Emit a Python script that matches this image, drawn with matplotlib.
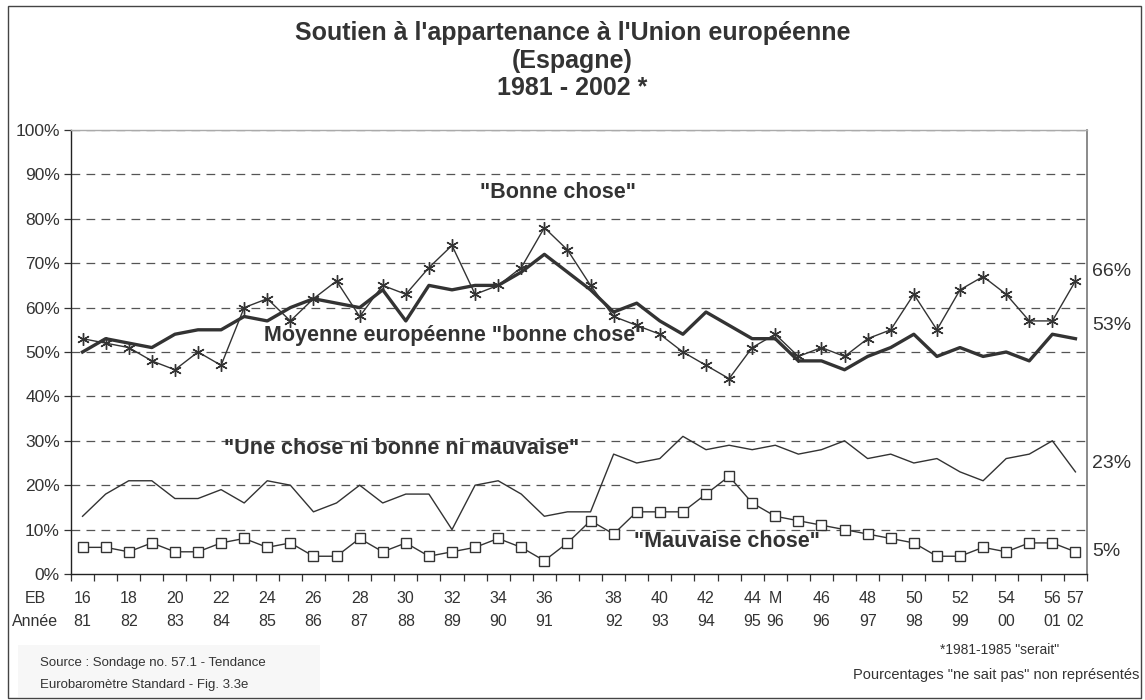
import numpy as np
import matplotlib
matplotlib.use('Agg')
import matplotlib.pyplot as plt
import matplotlib.patches as patches

plt.rcParams['font.family'] = ['Liberation Sans', 'DejaVu Sans']

# survey index 0..43 (EB16 .. EB57)
bonne = [53, 52, 51, 48, 46, 50, 47, 60, 62, 57, 62, 66, 58, 65, 63,
         69, 74, 63, 65, 69, 78, 73, 65, 58, 56, 54, 50, 47, 44, 51,
         54, 49, 51, 49, 53, 55, 63, 55, 64, 67, 63, 57, 57, 66]
moyenne = [50, 53, 52, 51, 54, 55, 55, 58, 57, 60, 62, 61, 60, 64, 57,
           65, 64, 65, 65, 68, 72, 68, 64, 59, 61, 57, 54, 59, 56, 53,
           53, 48, 48, 46, 49, 51, 54, 49, 51, 49, 50, 48, 54, 53]
ni_ni = [13, 18, 21, 21, 17, 17, 19, 16, 21, 20, 14, 16, 20, 16, 18,
         18, 10, 20, 21, 18, 13, 14, 14, 27, 25, 26, 31, 28, 29, 28,
         29, 27, 28, 30, 26, 27, 25, 26, 23, 21, 26, 27, 30, 23]
mauvaise = [6, 6, 5, 7, 5, 5, 7, 8, 6, 7, 4, 4, 8, 5, 7,
            4, 5, 6, 8, 6, 3, 7, 12, 9, 14, 14, 14, 18, 22, 16,
            13, 12, 11, 10, 9, 8, 7, 4, 4, 6, 5, 7, 7, 5]

label_pos = [0, 2, 4, 6, 8, 10, 12, 14, 16, 18, 20, 23, 25, 27, 29, 30,
             32, 34, 36, 38, 40, 42, 43]
eb_labels = ['16', '18', '20', '22', '24', '26', '28', '30', '32', '34', '36',
             '38', '40', '42', '44', 'M', '46', '48', '50', '52', '54', '56', '57']
year_labels = ['81', '82', '83', '84', '85', '86', '87', '88', '89', '90', '91',
               '92', '93', '94', '95', '96', '96', '97', '98', '99', '00', '01', '02']

x = np.arange(len(bonne))
dark = '#333333'

fig = plt.figure(figsize=(11.45, 7), dpi=100)
ax = fig.add_axes([71 / 1145, 126 / 700, 1016 / 1145, 444 / 700])

for v in range(10, 101, 10):
    ax.axhline(v, color='#555555', lw=0.9, dashes=(7, 5), zorder=1)

ax.plot(x, moyenne, color=dark, lw=2.4, zorder=3)
ax.plot(x, bonne, color=dark, lw=1.0, marker=(6, 2, 0), ms=9, mew=1.0, zorder=4)
ax.plot(x, ni_ni, color=dark, lw=1.0, zorder=3)
ax.plot(x, mauvaise, color=dark, lw=1.0, marker='s', ms=6.5, mfc='white',
        mec=dark, mew=1.0, zorder=4)

ax.set_xlim(-0.5, len(bonne) - 0.5)
ax.set_ylim(0, 100)
ax.set_yticks(range(0, 101, 10))
ax.set_yticklabels([f'{v}%' for v in range(0, 101, 10)], fontsize=12.5, color=dark)
ax.set_xticks(np.arange(-0.5, len(bonne), 1.0))
ax.set_xticklabels([])
ax.tick_params(axis='x', direction='out', length=5, width=0.9, color=dark)
ax.tick_params(axis='y', direction='out', length=5, width=0.9, color=dark, pad=3)

for s in ['left', 'bottom']:
    ax.spines[s].set_color('#222222')
    ax.spines[s].set_linewidth(1.0)
ax.spines['right'].set_color('#777777')
ax.spines['right'].set_linewidth(1.2)
ax.spines['top'].set_color('#aaaaaa')
ax.spines['top'].set_linewidth(1.0)

# x labels: two rows
trans = ax.get_xaxis_transform()
for p, eb, yr in zip(label_pos, eb_labels, year_labels):
    ax.text(p, -0.055, eb, transform=trans, ha='center', va='center', fontsize=11.5, color=dark)
    ax.text(p, -0.108, yr, transform=trans, ha='center', va='center', fontsize=11.5, color=dark)
ax.text(-2.05, -0.055, 'EB', transform=trans, ha='center', va='center', fontsize=11.5, color=dark)
ax.text(-2.05, -0.108, 'Année', transform=trans, ha='center', va='center', fontsize=11.5, color=dark)

# series labels
lab = dict(fontsize=15.5, fontweight='bold', color=dark, ha='center', va='center', zorder=5)
ax.text(20.6, 86, '"Bonne chose"', **lab)
ax.text(16.1, 53.8, 'Moyenne européenne "bonne chose"', **lab)
ax.text(13.8, 28.2, '"Une chose ni bonne ni mauvaise"', **lab)
ax.text(27.9, 7.4, '"Mauvaise chose"', **lab)

# final values on the right
for series, dy in [(bonne, 2.2), (moyenne, 2.9), (ni_ni, 2.0), (mauvaise, 0.0)]:
    ax.text(1.005, series[-1] + dy, f'{series[-1]}%', transform=ax.get_yaxis_transform(),
            ha='left', va='center', fontsize=14, color=dark)

# titles
title_kw = dict(ha='center', va='center', fontsize=18, fontweight='bold', color=dark)
fig.text(0.5, 1 - 33 / 700, "Soutien à l'appartenance à l'Union européenne", **title_kw)
fig.text(0.5, 1 - 61 / 700, '(Espagne)', **title_kw)
fig.text(0.5, 1 - 88 / 700, '1981 - 2002 *', **title_kw)

# footer
fig.patches.append(patches.Rectangle((18 / 1145, 3 / 700), 302 / 1145, 52 / 700,
                                     transform=fig.transFigure, facecolor='#f7f7f7',
                                     edgecolor='none', zorder=0))
fig.text(40 / 1145, 1 - 663 / 700, 'Source : Sondage no. 57.1 - Tendance',
         ha='left', va='center', fontsize=9.5, color=dark)
fig.text(40 / 1145, 1 - 685 / 700, 'Eurobaromètre Standard - Fig. 3.3e',
         ha='left', va='center', fontsize=9.5, color=dark)
fig.text(1000 / 1145, 1 - 650 / 700, '*1981-1985 "serait"', ha='center', va='center',
         fontsize=10, color=dark)
fig.text(1139 / 1145, 1 - 675 / 700, 'Pourcentages "ne sait pas" non représentés',
         ha='right', va='center', fontsize=10.5, color=dark)

# outer frame
fig.patches.append(patches.Rectangle((8 / 1145, 2 / 700), 1133 / 1145, 692 / 700,
                                     transform=fig.transFigure, facecolor='none',
                                     edgecolor='#444444', lw=1.0, zorder=1))

plt.savefig('out.png', dpi=100)
